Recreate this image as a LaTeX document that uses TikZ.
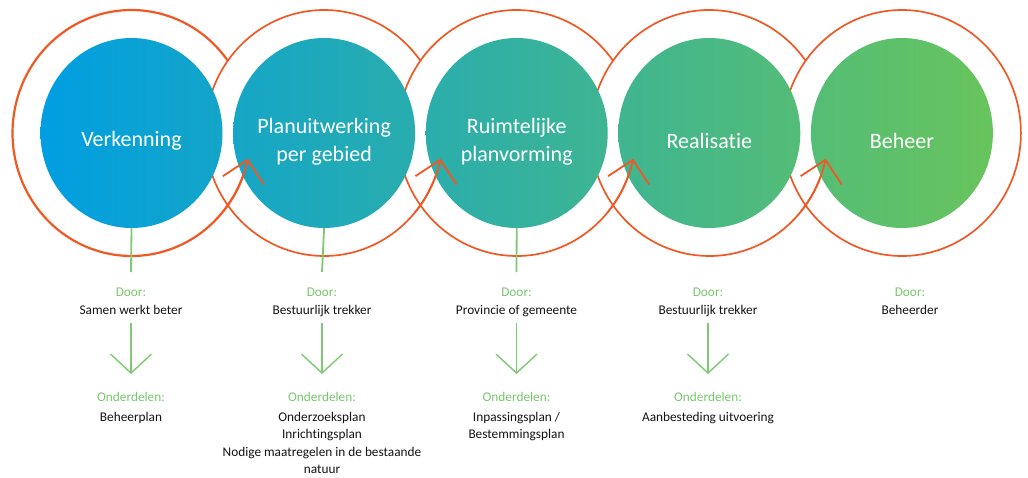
\documentclass[tikz,border=0pt]{standalone}
\usepackage{fontspec}
\setmainfont{Carlito}[Ligatures={NoCommon,NoRare,NoDiscretionary}]
\usetikzlibrary{arrows.meta,shapes.geometric}
\definecolor{ringc}{RGB}{240,88,36}
\definecolor{gtext}{RGB}{120,200,110}
\definecolor{gline}{RGB}{125,202,115}
\definecolor{ink}{RGB}{20,20,20}
\definecolor{cAL}{RGB}{0,158,226}\definecolor{cAR}{RGB}{20,165,200}
\definecolor{cBL}{RGB}{21,166,199}\definecolor{cBR}{RGB}{41,173,173}
\definecolor{cCL}{RGB}{42,173,172}\definecolor{cCR}{RGB}{62,181,146}
\definecolor{cDL}{RGB}{63,181,145}\definecolor{cDR}{RGB}{83,188,119}
\definecolor{cEL}{RGB}{84,189,118}\definecolor{cER}{RGB}{104,196,92}
\tikzset{
  ringline/.style={draw=ringc, line width=1.7pt},
  disc/.style={ellipse, minimum width=182pt, minimum height=190pt, inner sep=0pt, outer sep=0pt},
  title/.style={text=white, font=\fontsize{22}{28}\selectfont, align=center, inner sep=0pt},
  doorlbl/.style={text=gtext, font=\fontsize{13.3}{17.5}\selectfont, anchor=base, inner sep=0pt},
  wholbl/.style={text=ink, font=\fontsize{13.3}{17.5}\selectfont, anchor=base, inner sep=0pt},
  partlbl/.style={text=ink, font=\fontsize{13.3}{17.5}\selectfont, anchor=north, align=center, inner sep=0pt},
  stem/.style={draw=gline, line width=1.8pt},
  garrow/.style={draw=gline, line width=1.4pt, -{Straight Barb[length=19pt,width=41pt]}},
  oarrow/.style={draw=ringc, line width=1.8pt, -{Straight Barb[length=21pt,width=42pt]}},
}
\begin{document}
\begin{tikzpicture}[x=1pt,y=1pt]
\useasboundingbox[fill=white] (0,0) rectangle (1028,-477);
% centres
\coordinate (p1) at (131.5,-133);
\coordinate (p2) at (324.1,-133);
\coordinate (p3) at (516.7,-133);
\coordinate (p4) at (709.3,-133);
\coordinate (p5) at (901.9,-133);
% rings
\draw[ringline, line width=2.2pt] (p1) ++(36:119pt and 123pt) arc[start angle=36, end angle=348, x radius=119pt, y radius=123pt];
\foreach \p in {p2,p3,p4}{
  \draw[ringline] (\p) ++(36:119pt and 123pt) arc[start angle=36, end angle=348, x radius=119pt, y radius=123pt];
}
\draw[ringline] (p5) ellipse[x radius=119pt, y radius=123pt];
% discs
\node[disc, left color=cAL, right color=cAR] (c1) at (p1) {};
\node[disc, left color=cBL, right color=cBR] (c2) at (p2) {};
\node[disc, left color=cCL, right color=cCR] (c3) at (p3) {};
\node[disc, left color=cDL, right color=cDR] (c4) at (p4) {};
\node[disc, left color=cEL, right color=cER] (c5) at (p5) {};
% arrow ends of rings
\foreach \p in {p1,p2,p3,p4}{
  \draw[oarrow] (\p) ++(-40:119pt and 123pt) arc[start angle=-40, end angle=-12, x radius=119pt, y radius=123pt];
}
% titles
\node[title] (t1) at ([yshift=-8pt]c1.center) {Verkenning};
\node[title] (t2) at ([yshift=-9pt]c2.center) {Planuitwerking\\per gebied};
\node[title] (t3) at ([yshift=-9pt]c3.center) {Ruimtelijke\\planvorming};
\node[title] (t4) at ([yshift=-8pt]c4.center) {Realisatie};
\node[title] (t5) at ([yshift=-8pt]c5.center) {Beheer};
% column texts
\node[doorlbl] (d1) at (131,-296) {Door:};
\node[doorlbl] (d2) at (322,-296) {Door:};
\node[doorlbl] (d3) at (516.5,-296) {Door:};
\node[doorlbl] (d4) at (708,-296) {Door:};
\node[doorlbl] (d5) at (910,-296) {Door:};
\node[wholbl] (w1) at (131,-314.5) {Samen werkt beter};
\node[wholbl] (w2) at (322,-314.5) {Bestuurlijk trekker};
\node[wholbl] (w3) at (516.5,-314.5) {Provincie of gemeente};
\node[wholbl] (w4) at (708,-314.5) {Bestuurlijk trekker};
\node[wholbl] (w5) at (910,-314.5) {Beheerder};
\node[doorlbl] (o1) at (131,-401) {Onderdelen:};
\node[doorlbl] (o2) at (322,-401) {Onderdelen:};
\node[doorlbl] (o3) at (516.5,-401) {Onderdelen:};
\node[doorlbl] (o4) at (708,-401) {Onderdelen:};
\node[partlbl] (q1) at (131,-411.7) {Beheerplan};
\node[partlbl] (q2) at (322,-411.7) {Onderzoeksplan\\Inrichtingsplan\\Nodige maatregelen in de bestaande\\natuur};
\node[partlbl] (q3) at (516.5,-411.7) {Inpassingsplan /\\Bestemmingsplan};
\node[partlbl] (q4) at (708,-411.7) {Aanbesteding uitvoering};
% stems
\draw[stem] (c1.south) -- ([yshift=24pt]d1.base);
\draw[stem] (c2.south) -- ([yshift=24pt]d2.base);
\draw[stem] (c3.south) -- ([yshift=24pt]d3.base);
% green arrows
\foreach \i in {1,2,3,4}{
  \draw[garrow] ([yshift=-8.5pt]w\i.base) -- ([yshift=27pt]o\i.base);
}
\end{tikzpicture}
\end{document}
